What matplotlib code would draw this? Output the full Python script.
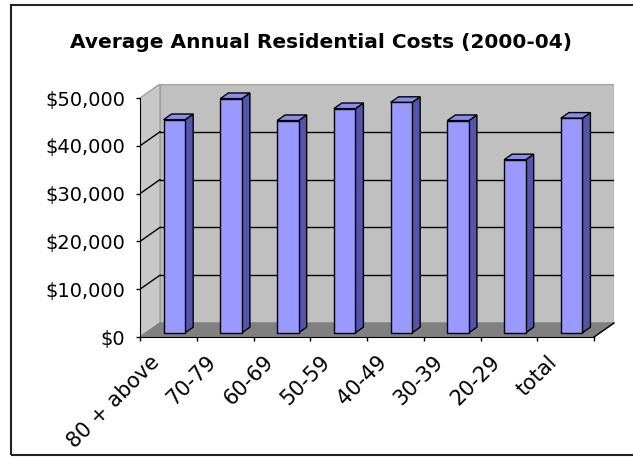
import matplotlib
matplotlib.use("Agg")
import matplotlib.pyplot as plt
from matplotlib.patches import Polygon, Rectangle
import matplotlib.transforms as mtransforms

categories = ["80 + above", "70-79", "60-69", "50-59", "40-49", "30-39", "20-29", "total"]
values = [44600, 49000, 44400, 46900, 48200, 44400, 36200, 44900]
yticks = [0, 10000, 20000, 30000, 40000, 50000]
ytick_labels = ["$0", "$10,000", "$20,000", "$30,000", "$40,000", "$50,000"]
title = "Average Annual Residential Costs (2000-04)"

W, H = 633, 458
fig = plt.figure(figsize=(W / 100, H / 100), dpi=100)
fig.patch.set_facecolor("white")

# axes placement (front plane y-axis at px 140, floor front at px 337)
ax_left, ax_right, ax_bottom, ax_top = 140, 614, 337, 84
ax = fig.add_axes([ax_left / W, (H - ax_bottom) / H, (ax_right - ax_left) / W, (ax_bottom - ax_top) / H])
ax.set_facecolor("none")

n = len(categories)
ymax = 50000
DX = 0.3524          # depth offset in category units
DY = 2930            # depth offset in value units
ax.set_xlim(0, n + DX)
ax.set_ylim(0, ymax + DY)

wall = "#C0C0C0"
edge_gray = "#A0A0A0"
# back wall
ax.add_patch(Rectangle((DX, DY), n, ymax, facecolor=wall, edgecolor=edge_gray, lw=1, zorder=0))
# side wall
ax.add_patch(Polygon([(0, 0), (DX, DY), (DX, ymax + DY), (0, ymax)], closed=True,
                     facecolor="#C8C8C8", edgecolor=edge_gray, lw=1, zorder=0))
# floor
ax.add_patch(Polygon([(0, 0), (n, 0), (n + DX, DY), (DX, DY)], closed=True,
                     facecolor="#808080", edgecolor="#808080", lw=1, zorder=0.5))
ax.plot([n, n + DX], [0, DY], color="black", lw=1, zorder=0.6, clip_on=False)

# gridlines
for v in yticks[1:-1]:
    ax.plot([DX, n + DX], [v + DY, v + DY], color="black", lw=1, zorder=1)
    ax.plot([0, DX], [v, v + DY], color="black", lw=1, zorder=1)

# bars
w = 0.38
f0, f1 = 0.3, 0.7
ddx = (f1 - f0) * DX
ddy = (f1 - f0) * DY
front = "#9999FF"
side = "#5555B0"
top = "#8C8CEE"
for i, v in enumerate(values):
    xl = i + 0.5 - w / 2 + f0 * DX
    xr = xl + w
    b = f0 * DY
    ax.add_patch(Polygon([(xr, b), (xr + ddx, b + ddy), (xr + ddx, b + ddy + v), (xr, b + v)],
                         closed=True, facecolor=side, edgecolor="black", lw=1, zorder=3))
    ax.add_patch(Polygon([(xl, b + v), (xr, b + v), (xr + ddx, b + v + ddy), (xl + ddx, b + v + ddy)],
                         closed=True, facecolor=top, edgecolor="black", lw=1, zorder=3))
    ax.add_patch(Rectangle((xl, b), w, v, facecolor=front, edgecolor="black", lw=1, zorder=4))

# axes spines and ticks
for s in ["top", "right"]:
    ax.spines[s].set_visible(False)
ax.spines["left"].set_bounds(0, ymax)
ax.spines["bottom"].set_bounds(0, n)
ax.spines["left"].set_zorder(5)
ax.spines["bottom"].set_zorder(5)
ax.set_yticks(yticks)
ax.set_yticklabels(ytick_labels, fontsize=14, family="DejaVu Sans")
ax.set_xticks(range(n + 1))
ax.set_xticklabels([])
ax.tick_params(axis="both", direction="out", length=3, width=1, color="black")
ax.tick_params(axis="y", pad=7.5)

# rotated category labels
offset = mtransforms.ScaledTranslation(-12 / 100, -22 / 100, fig.dpi_scale_trans)
for i, c in enumerate(categories):
    ax.text(i + 0.5, 0, c, rotation=45, rotation_mode="anchor", ha="right", va="center",
            fontsize=15, family="DejaVu Sans", transform=ax.transData + offset, clip_on=False)

fig.text(321 / W, 1 - 43 / H, title, ha="center", va="center", fontsize=14.5, fontweight="bold",
         family="DejaVu Sans")

# outer border
fig.patches.append(Rectangle((11 / W, 3 / H), 1.0, (452 - 3) / H + 0.002, transform=fig.transFigure,
                             fill=False, edgecolor="#222222", lw=1.5, figure=fig))

fig.savefig("out.png", dpi=100)
